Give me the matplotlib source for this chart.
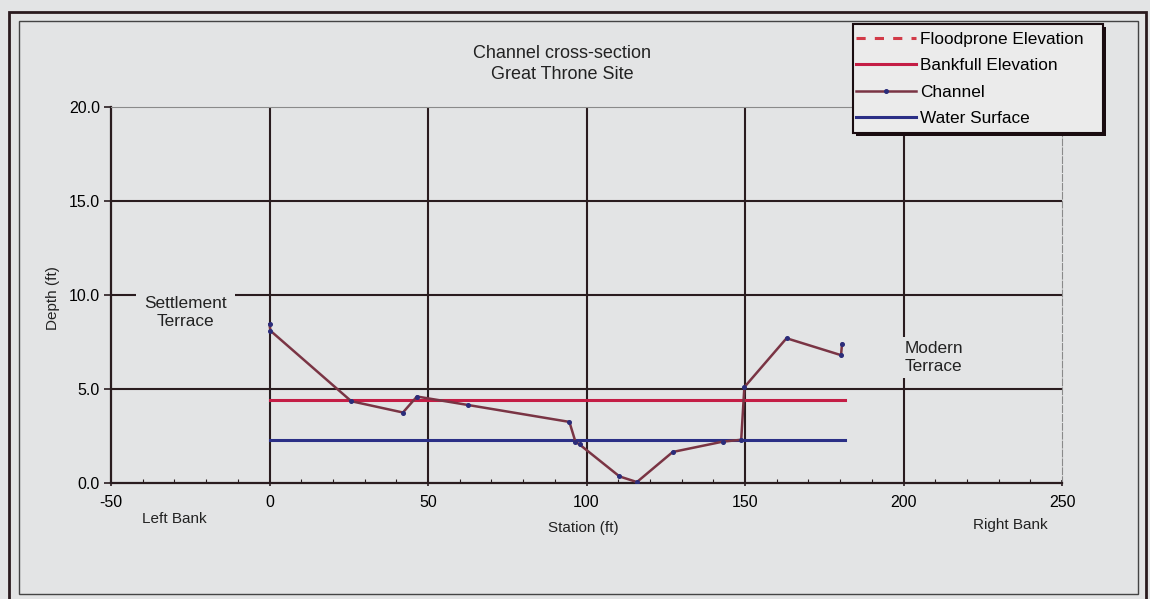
import matplotlib
matplotlib.use("Agg")
import matplotlib.pyplot as plt
from matplotlib.patches import Rectangle
from matplotlib.ticker import MultipleLocator

plt.rcParams['font.family'] = ['Liberation Sans', 'DejaVu Sans']
plt.rcParams['axes.unicode_minus'] = False

# Surveyed channel profile
station = [0, 0.3, 25.8, 42.1, 46.5, 62.6, 94.6, 96.5, 97.8, 110.4, 115.9,
           127.2, 143.0, 148.8, 149.8, 163.1, 180.3, 180.6]
depth = [8.45, 8.1, 4.35, 3.75, 4.6, 4.15, 3.25, 2.2, 2.05, 0.35, 0.05,
         1.65, 2.2, 2.3, 5.1, 7.7, 6.8, 7.4]

# Reference elevations
bankfull_station = [0, 181.4]
bankfull_depth = [4.42, 4.42]
water_station = [0, 181.4]
water_depth = [2.28, 2.28]
floodprone_station = []
floodprone_depth = []

x_ticks = [-50, 0, 50, 100, 150, 200, 250]
y_ticks = [0.0, 5.0, 10.0, 15.0, 20.0]

BG = '#e3e4e5'
GRID = '#2a1c1f'
INK = '#1a0c10'

fig = plt.figure(figsize=(11.5, 5.99), dpi=100, facecolor=BG)
W, H = 1150, 599


def fig_rect(x0, y0, x1, y1, **kw):
    """Rectangle given in pixel coordinates measured from the top-left."""
    return Rectangle((x0 / W, 1 - y1 / H), (x1 - x0) / W, (y1 - y0) / H,
                     transform=fig.transFigure, **kw)


# Double border around the chart
fig.add_artist(fig_rect(9, 12, 1146, 602, fill=False, edgecolor='#2a1a1e',
                        linewidth=2.0))
fig.add_artist(fig_rect(19, 21, 1138, 594, fill=False, edgecolor='#444444',
                        linewidth=1.0))

ax = fig.add_axes([111 / W, 1 - 483 / H, (1062 - 111) / W, (483 - 107) / H])
ax.set_facecolor(BG)
ax.set_xlim(-50, 250)
ax.set_ylim(0, 20)
ax.set_xticks(x_ticks)
ax.set_yticks(y_ticks)
ax.set_yticklabels([f"{v:.1f}" for v in y_ticks])
ax.xaxis.set_minor_locator(MultipleLocator(10))
ax.tick_params(axis='x', which='major', direction='inout', length=5, width=1.2,
               color=GRID, labelsize=11.5, pad=6)
ax.tick_params(axis='x', which='minor', direction='in', length=3, width=0.8,
               color=GRID)
ax.tick_params(axis='y', which='major', direction='out', length=5, width=1.2,
               color=GRID, labelsize=11.5, pad=3)

for v in x_ticks[1:-1]:
    ax.axvline(v, color=GRID, linewidth=1.5, zorder=1)
for v in y_ticks[1:-1]:
    ax.axhline(v, color=GRID, linewidth=1.5, zorder=1)

ax.spines['left'].set_color(GRID)
ax.spines['left'].set_linewidth(1.6)
ax.spines['bottom'].set_color(GRID)
ax.spines['bottom'].set_linewidth(1.6)
ax.spines['top'].set_color('#8a8a8a')
ax.spines['top'].set_linewidth(0.8)
ax.spines['right'].set_color('#8a8a8a')
ax.spines['right'].set_linewidth(0.8)
ax.spines['right'].set_linestyle((0, (6, 2)))

ax.plot(floodprone_station, floodprone_depth, color='#d23a48', linewidth=2.2,
        linestyle=(0, (3, 3)), label='Floodprone Elevation', zorder=4)
ax.plot(bankfull_station, bankfull_depth, color='#c41d45', linewidth=2.2,
        label='Bankfull Elevation', zorder=4)
ax.plot(station, depth, color='#7a3444', linewidth=1.8, marker='o',
        markersize=2.6, markerfacecolor='#2b2c7a', markeredgecolor='#2b2c7a',
        label='Channel', zorder=5)
ax.plot(water_station, water_depth, color='#2b2f86', linewidth=2.2,
        label='Water Surface', zorder=4)

# Terrace annotations, masking the grid behind them
ax.text(-26.5, 9.05, "Settlement\nTerrace", ha='center', va='center',
        fontsize=12.4, color='#222222', linespacing=1.25, zorder=3,
        bbox=dict(facecolor=BG, edgecolor='none', pad=6))
ax.text(200.4, 6.68, "Modern\nTerrace", ha='left', va='center',
        fontsize=12.4, color='#222222', linespacing=1.28, zorder=3,
        bbox=dict(facecolor=BG, edgecolor='none', pad=3))

fig.text(562 / W, 1 - 64 / H, "Channel cross-section\nGreat Throne Site",
         ha='center', va='center', fontsize=13, color='#222222', linespacing=1.35)
fig.text(583 / W, 1 - 528 / H, "Station (ft)", ha='center', va='center',
         fontsize=11, color='#222222')
fig.text(174 / W, 1 - 519 / H, "Left Bank", ha='center', va='center',
         fontsize=11, color='#222222')
fig.text(1010 / W, 1 - 525 / H, "Right Bank", ha='center', va='center',
         fontsize=11, color='#222222')
fig.text(53 / W, 1 - 298 / H, "Depth (ft)", ha='center', va='center',
         rotation=90, fontsize=11, color='#222222')

# Legend box with a solid drop shadow, entries laid over it
fig.add_artist(fig_rect(856, 27, 1106, 136, facecolor=INK, edgecolor='none',
                        zorder=8))
fig.add_artist(fig_rect(853, 24, 1103, 133, facecolor='#ebebeb',
                        edgecolor=INK, linewidth=1.5, zorder=9))
leg = ax.legend(loc='upper left', bbox_to_anchor=(856 / W, 1 - 32 / H),
                bbox_transform=fig.transFigure, borderaxespad=0,
                fontsize=12.4, frameon=False, borderpad=0,
                handlelength=3.5, handletextpad=0.23, labelspacing=0.66)
leg.set_zorder(10)
fig.add_artist(leg)

fig.savefig("out.png", dpi=100, facecolor=BG)
